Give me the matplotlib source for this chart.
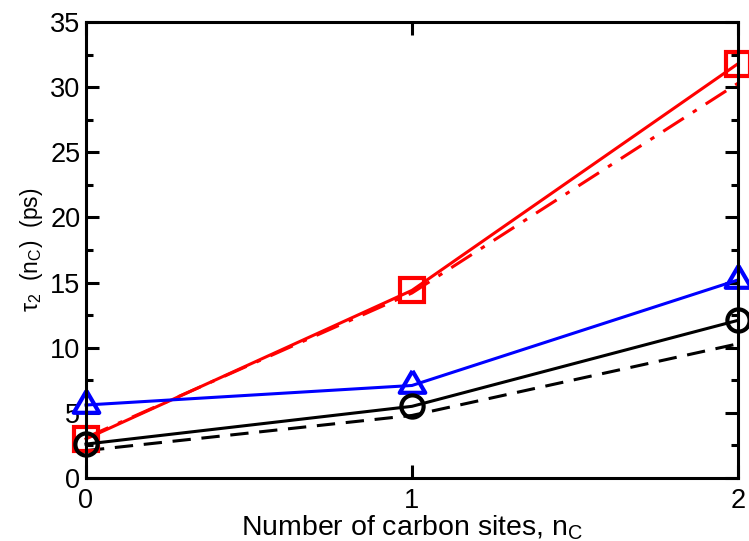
import matplotlib
matplotlib.use('Agg')
import matplotlib.pyplot as plt
from matplotlib.ticker import MultipleLocator
import numpy as np

plt.rcParams['font.family'] = ['Liberation Sans', 'DejaVu Sans']
plt.rcParams['mathtext.fontset'] = 'custom'
plt.rcParams['mathtext.rm'] = 'Liberation Sans'
plt.rcParams['mathtext.it'] = 'Liberation Sans'

# carbon sites and tau_2 values (ps)
n_c = [0, 1, 2]
red_solid = [3.0, 14.4, 31.8]
red_dashdot = [3.1, 14.2, 30.3]
blue_solid = [5.6, 7.1, 15.2]
black_solid = [2.6, 5.5, 12.1]
black_dashed = [2.1, 4.8, 10.3]

# triangle with its centroid on the data point
tri = [(0, 2), (-1.75, -1), (1.75, -1), (0, 2)]

fig = plt.figure(figsize=(7.49, 5.41), dpi=100)
ax = fig.add_axes([0.1148, 0.1165, 0.8705, 0.8428])

lw = 2.2
mew = 3.0
ax.plot(n_c, red_dashdot, color='red', ls='-.', lw=lw, dashes=(8, 3.5, 1.5, 3.5))
ax.plot(n_c, black_dashed, color='black', ls='--', lw=lw, dashes=(6, 3.5))
ax.plot(n_c, red_solid, color='red', lw=lw, marker='s', ms=17, mfc='none',
        mew=mew, clip_on=False)
ax.plot(n_c, blue_solid, color='blue', lw=lw, marker=tri, ms=21, mfc='none',
        mew=mew, clip_on=False)
ax.plot(n_c, black_solid, color='black', lw=lw, marker='o', ms=16, mfc='none',
        mew=mew, clip_on=False)

ax.set_xlim(0, 2)
ax.set_ylim(0, 35)
ax.set_xticks([0, 1, 2])
ax.yaxis.set_major_locator(MultipleLocator(5))
ax.yaxis.set_minor_locator(MultipleLocator(2.5))
ax.tick_params(which='both', direction='in', top=True, right=True, width=2.2,
               labelsize=19.5)
ax.tick_params(which='major', length=9.5)
ax.tick_params(which='minor', length=5)
ax.tick_params(axis='x', pad=7)
ax.tick_params(axis='y', pad=4)
for s in ax.spines.values():
    s.set_linewidth(2.2)

ax.set_xlabel('Number of carbon sites, n$_\\mathrm{C}$', fontsize=20.5, labelpad=0)
ax.set_ylabel('$\\tau_2$  (n$_\\mathrm{C}$)  (ps)', fontsize=16.5, labelpad=4)

fig.savefig('out.png', dpi=100)
